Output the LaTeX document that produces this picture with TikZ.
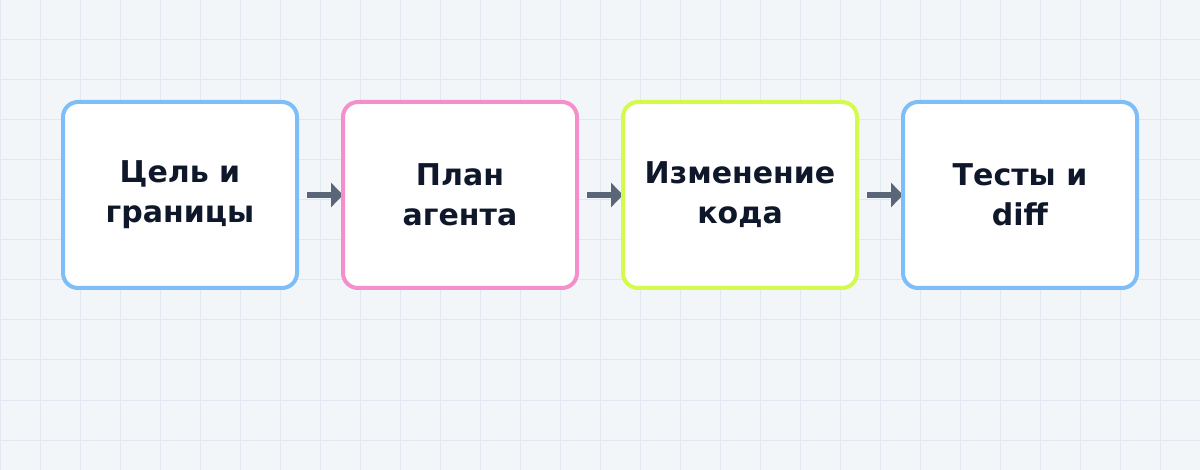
\documentclass[tikz,border=0pt]{standalone}
\usepackage{fontspec}
\setmainfont{DejaVu Sans}
\usetikzlibrary{arrows.meta,positioning,backgrounds}
\definecolor{bgpaper}{HTML}{F3F6F9}
\definecolor{gridblue}{HTML}{E2E8F2}
\definecolor{cblue}{HTML}{7DBEF8}
\definecolor{cpink}{HTML}{F58FCB}
\definecolor{clime}{HTML}{D4FA4C}
\definecolor{slate}{HTML}{5B6578}
\definecolor{ink}{HTML}{0F172A}
\tikzset{
  stage/.style={draw, line width=4pt, fill=white, rounded corners=15pt,
    minimum width=234pt, minimum height=186pt, inner sep=0pt,
    align=center, text=ink, font=\bfseries\fontsize{30}{40}\selectfont},
  flow/.style={draw=slate, line width=6pt, -{Triangle[length=12pt,width=24pt]}}
}
\begin{document}
\begin{tikzpicture}[x=1pt,y=-1pt]
  \useasboundingbox (0,0) rectangle (1200,470);
  \node[stage, draw=cblue] (goal) at (180,195) {Цель и\\границы};
  \node[stage, draw=cpink, right=42pt of goal] (plan) {План\\агента};
  \node[stage, draw=clime, right=42pt of plan] (edit) {Изменение\\кода};
  \node[stage, draw=cblue, right=42pt of edit] (tests) {Тесты и\\diff};
  \begin{scope}[on background layer]
    \fill[bgpaper] (0,0) rectangle (1200,470);
    \foreach \gx in {0,40,...,1200}
      \draw[gridblue, line width=1pt] (\gx,0) -- (\gx,470);
    \foreach \gy in {0,40,...,440}
      \draw[gridblue, line width=1pt] (0,\gy) -- (1200,\gy);
    \draw[flow] ([xshift=8pt]goal.east) -- ([xshift=2pt]plan.west);
    \draw[flow] ([xshift=8pt]plan.east) -- ([xshift=2pt]edit.west);
    \draw[flow] ([xshift=8pt]edit.east) -- ([xshift=2pt]tests.west);
  \end{scope}
\end{tikzpicture}
\end{document}
